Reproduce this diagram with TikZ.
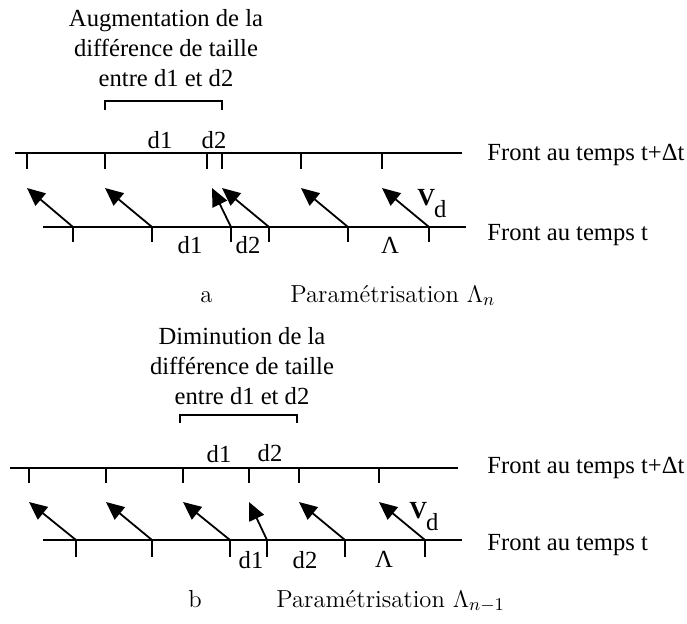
\documentclass[tikz,border=0pt]{standalone}
\usepackage{fontspec}
\setmainfont{Liberation Serif}
\usepackage{tikz}
\usetikzlibrary{arrows.meta}

\begin{document}
\begin{tikzpicture}[
    x=0.5pt, y=-0.5pt,
    font=\fontsize{12.3}{15.2}\selectfont,
    front/.style={line width=1pt},
    tick/.style={line width=0.8pt},
    bracket/.style={line width=0.6pt},
    vel/.style={-{Triangle[length=9pt,width=8pt]}, line width=0.9pt},
    lbl/.style={anchor=base, inner sep=0pt},
    legend/.style={anchor=base west, inner sep=0pt},
    note/.style={align=center, inner sep=0pt},
    caption/.style={anchor=base west, inner sep=0pt,
      font=\fontsize{12.3}{15}\fontfamily{lmr}\selectfont}
  ]
    \useasboundingbox (0,0) rectangle (687,623);

    % panel a
    \node[note] (notea) at (166,48) {Augmentation de la\\différence de taille\\entre d1 et d2};
    \coordinate (bra1) at (105,110); \coordinate (bra2) at (222,110);
    \draw[bracket] (bra1) -- ++(0,-9) -| (bra2);

    \coordinate (uaL) at (15,153);  \coordinate (uaR) at (462,153);
    \coordinate (laL) at (43,227);  \coordinate (laR) at (466,227);
    \draw[front] (uaL) -- (uaR);
    \draw[front] (laL) -- (laR);
    \foreach \x [count=\i] in {27,105,207,222,301,382} {
      \coordinate (ua\i) at (\x,153);
      \draw[tick] (ua\i) -- ++(0,16);
    }
    \foreach \x [count=\i] in {73,152,231,269,348,429} {
      \coordinate (la\i) at (\x,227);
      \draw[tick] (la\i) -- ++(0,15);
    }
    \foreach \x [count=\i] in {27,105,212,222,301,382}
      \coordinate (va\i) at (\x,188);
    \foreach \i in {1,...,6}
      \draw[vel] (la\i) -- (va\i);

    \node[lbl] (d1ua) at (160,148) {d1};
    \node[lbl] (d2ua) at (214,148) {d2};
    \node[lbl] (d1la) at (190,253) {d1};
    \node[lbl] (d2la) at (248,253) {d2};
    \node[lbl] (lama) at (390,253) {Λ};
    \node[legend] (vda) at (417,205) {{\bfseries V}\kern-0.5pt\raisebox{-6pt}{d}};
    \node[legend] (fronta1) at (487,160) {Front au temps t+Δt};
    \node[legend] (fronta2) at (487,240) {Front au temps t};
    \node[caption] (capa) at (200,302) {a};
    \node[caption] (para) at (290,302) {Paramétrisation $\Lambda_n$};

    % panel b
    \node[note] (noteb) at (242,366) {Diminution de la\\différence de taille\\entre d1 et d2};
    \coordinate (brb1) at (180,423); \coordinate (brb2) at (297,423);
    \draw[bracket] (brb1) -- ++(0,-8) -| (brb2);

    \coordinate (ubL) at (10,468);  \coordinate (ubR) at (458,468);
    \coordinate (lbL) at (43,540);  \coordinate (lbR) at (462,540);
    \draw[front] (ubL) -- (ubR);
    \draw[front] (lbL) -- (lbR);
    \foreach \x [count=\i] in {29,106,183,249,299,379} {
      \coordinate (ub\i) at (\x,468);
      \draw[tick] (ub\i) -- ++(0,15);
    }
    \foreach \x [count=\i] in {76,152,230,267,345,425} {
      \coordinate (lb\i) at (\x,540);
      \draw[tick] (lb\i) -- ++(0,17);
    }
    \foreach \x [count=\i] in {29,106,183,249,299,379}
      \coordinate (vb\i) at (\x,502);
    \foreach \i in {1,...,6}
      \draw[vel] (lb\i) -- (vb\i);

    \node[lbl] (d1ub) at (219,462) {d1};
    \node[lbl] (d2ub) at (270,461) {d2};
    \node[lbl] (d1lb) at (251,568) {d1};
    \node[lbl] (d2lb) at (305,568) {d2};
    \node[lbl] (lamb) at (384,567) {Λ};
    \node[legend] (vdb) at (409,518) {{\bfseries V}\kern-0.5pt\raisebox{-6pt}{d}};
    \node[legend] (frontb1) at (487,473) {Front au temps t+Δt};
    \node[legend] (frontb2) at (487,550) {Front au temps t};
    \node[caption] (capb) at (188,607) {b};
    \node[caption] (parb) at (276,607) {Paramétrisation $\Lambda_{n-1}$};
  \end{tikzpicture}
\end{document}
